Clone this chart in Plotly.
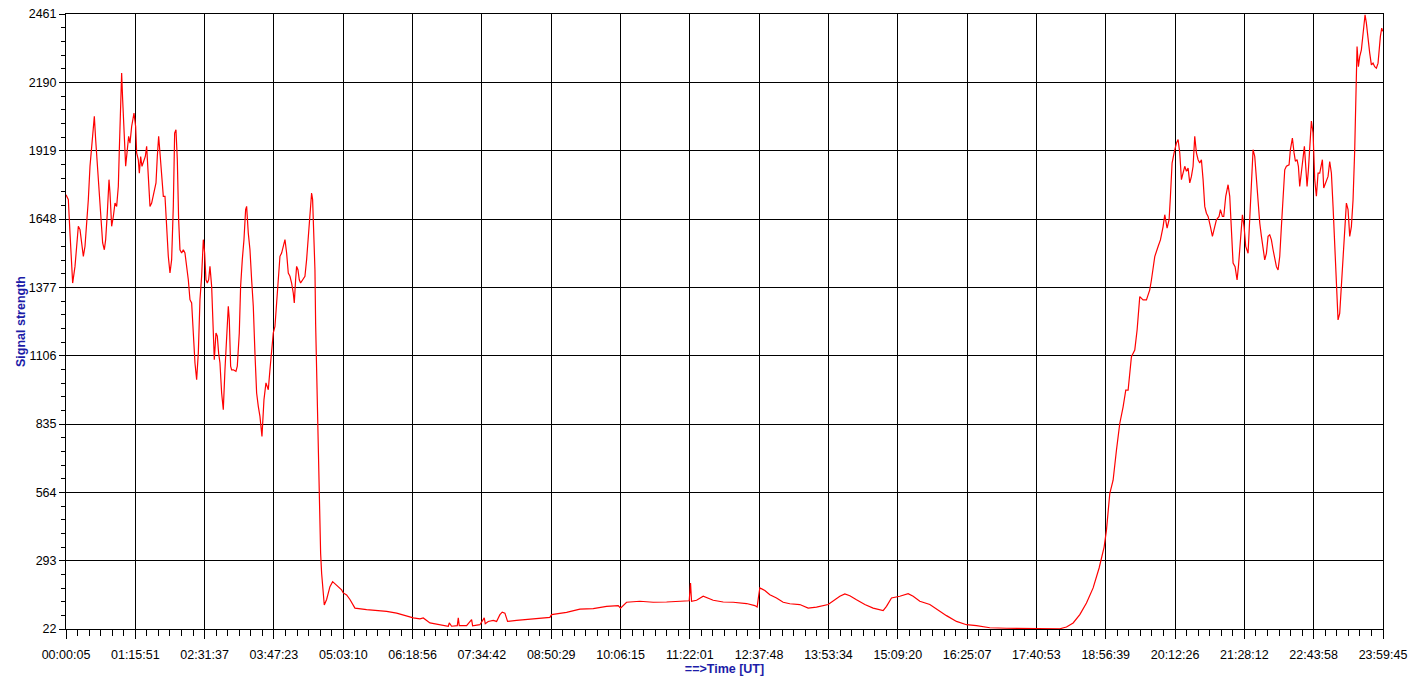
import plotly.graph_objects as go

# Time in seconds since 00:00:00 UT
time_s = [
    5, 158, 267, 377, 442, 595, 704, 814, 923, 1032, 1142, 1251, 1360, 1470, 1579, 1688, 1797, 1863, 1950,
    2060, 2191, 2300, 2409, 2519, 2606, 2715, 2825, 2890, 2999, 3109, 3218, 3327, 3437, 3502, 3590, 3655,
    3721, 3808, 3918, 4027, 4114, 4202, 4311, 4464, 4573, 4639, 4748, 4814, 4901, 4989, 5076, 5207, 5295,
    5404, 5513, 5623, 5732, 5907, 5994, 6082, 6169, 6278, 6388, 6497, 6606, 6715, 6825, 6934, 7043, 7131,
    7218, 7306, 7393, 7480, 7590, 7699, 7808, 7918, 8027, 8136, 8246, 8355, 8464, 8574, 8683, 8792, 8901,
    9011, 9098, 9185, 9273, 9360, 9448, 9557, 9666, 9732, 9841, 9929, 10016, 10103, 10213, 10322, 10431,
    10540, 10650, 10715, 10803, 10868, 10977, 11152, 11240, 11371, 11458, 11568, 11677, 11786, 11852, 11961,
    12071, 12180, 12289, 12398, 12508, 12617, 12726, 12858, 12989, 13120, 13273, 13382, 13491, 13601, 13710,
    13819, 13929, 14038, 14147, 14256, 14366, 14475, 14584, 14694, 14803, 14912, 14978, 15065, 15131, 15218,
    15306, 15393, 15524, 15677, 15786, 15896, 16005, 16114, 16180, 16246, 16333,
    16377, 16443, 16508, 16574, 16618, 16705, 16771, 16836, 16945, 17098, 17317, 17492, 17754, 18082, 18190,
    18410, 18628, 18956, 19723, 20379, 21035, 21690, 22346, 22783, 23220, 23439, 23876, 24531, 25078, 25144,
    25297, 25668, 25734, 25799, 26280, 26608, 26673, 27153, 27437, 27503, 27700, 28027, 28246, 28464, 28617,
    28792, 28967, 29557, 30650, 31744, 31853, 32837, 33711, 34586, 35460, 36224, 36377, 36771, 37645, 38520,
    39394, 40268, 40880, 40967, 41033, 41361, 41798, 42454, 43110, 43765, 44640,
    45184, 45337, 45431, 45513, 45841, 46169, 46606, 47043, 47480, 48136, 48683, 49229, 49994, 50322, 50760,
    51087, 51415, 51852, 52399, 52945, 53601, 53820, 54148, 54694, 55241, 55569, 56006, 56662, 57208, 57755,
    58411, 59066, 59722, 60597, 61690, 63439, 65187, 65624, 66062, 66499, 66936, 67373, 67766,
    68093, 68246, 68464, 68683, 68902, 69120, 69339, 69514, 69667, 69885, 70104, 70257, 70432, 70650, 70869,
    71087, 71197, 71415, 71634, 71787, 71962, 72071, 72224, 72355, 72443, 72552, 72683, 72836, 72945, 73055,
    73164, 73273, 73382, 73492, 73601, 73710, 73820, 73929, 74038, 74148, 74257, 74366, 74475, 74585, 74694,
    74803, 74913, 75066, 75197, 75350, 75459, 75634, 75721, 75852, 75940, 76071, 76224, 76333, 76443, 76552,
    76683, 76814, 76902, 76989, 77164, 77273, 77382, 77536, 77645, 77754, 77863, 77973, 78082, 78191, 78301,
    78410, 78519, 78628, 78738, 78847, 78956, 79066, 79175, 79284, 79393, 79503, 79612, 79721, 79831, 79940,
    80049, 80224, 80311, 80442, 80552, 80639, 80748, 80836, 80923, 81033, 81142, 81229, 81317, 81404, 81492,
    81579, 81688, 81798, 81907, 82016, 82126, 82235, 82344, 82410, 82497, 82628, 82781, 82890, 83000, 83109,
    83218, 83328, 83437, 83546, 83656, 83765, 83874, 83984, 84093, 84202, 84311, 84421, 84530,
    84596, 84639, 84683, 84771, 84858, 84967, 85033, 85120, 85208, 85295, 85404, 85514, 85623, 85732, 85842,
    85951, 86060, 86126, 86213, 86301, 86366,
]

signal = [
    1744, 1725, 1592, 1487, 1394, 1460, 1540, 1619, 1606, 1540, 1500, 1540, 1619, 1725, 1857, 1936, 2015, 2055, 1963,
    1857, 1725, 1619, 1553, 1526, 1566, 1672, 1804, 1751, 1619, 1658, 1711, 1698, 1778, 1923, 2121, 2227,
    2121, 1989, 1857, 1923, 1976, 1949, 2015, 2068, 2015, 1910, 1883, 1830, 1896, 1857, 1870, 1896, 1936,
    1817, 1698, 1711, 1738, 1791, 1896, 1976, 1910, 1817, 1738, 1738, 1592, 1500, 1434, 1487, 1698, 1989,
    2002, 1883, 1645, 1526, 1513, 1526, 1513, 1460, 1407, 1328, 1315, 1196, 1077, 1011, 1116, 1328, 1421,
    1566, 1513, 1407, 1394, 1407, 1460, 1381, 1196, 1090, 1196, 1183, 1116, 1077, 958, 892, 1050,
    1196, 1302, 1249, 1064, 1050, 1050, 1044, 1064, 1196, 1381, 1487, 1566, 1685, 1698, 1592,
    1526, 1407, 1302, 1116, 958, 905, 865, 786, 931, 998, 971, 1050, 1143, 1196, 1222,
    1328, 1421, 1500, 1513, 1540, 1566, 1513, 1434, 1421, 1394, 1354, 1315, 1407, 1460, 1447,
    1407, 1394, 1407, 1421, 1487, 1566, 1645, 1751, 1725, 1619, 1446,
    1234, 1049, 851, 653, 520, 322, 243, 177, 117, 139, 190, 210, 196, 177, 165,
    157, 139, 105, 99, 96, 92, 85, 72, 66, 62, 66, 46, 39, 33, 46,
    33, 35, 66, 35, 35, 59, 35, 39, 66, 43, 52, 56, 52, 79, 89,
    85, 52, 56, 62, 68, 79, 88, 101, 103, 112, 115, 105, 128, 132, 128,
    129, 132, 134, 204, 132, 136, 152, 136, 129, 128, 123,
    115, 109, 152, 185, 175, 158, 145, 128, 122, 119, 105, 109, 119, 132, 152,
    161, 154, 138, 119, 105, 95, 112, 145, 152, 162, 152, 132, 119, 96, 75,
    52, 39, 35, 27, 25, 23, 23, 30, 46, 79, 125, 185, 264,
    347, 413, 559, 612, 731, 837, 903, 969, 969, 1102, 1128, 1208, 1340, 1327, 1327,
    1367, 1406, 1499, 1539, 1565, 1618, 1665, 1612, 1645, 1738, 1870, 1910, 1949, 1963, 1910,
    1804, 1830, 1857, 1837, 1850, 1791, 1817, 1857, 1976, 1910, 1883, 1870, 1883, 1804, 1698,
    1671, 1658, 1618, 1579, 1618, 1645, 1658, 1685, 1658, 1658, 1738, 1784, 1738, 1592, 1473,
    1459, 1406, 1459, 1539, 1665, 1618, 1539, 1512, 1632, 1804, 1923, 1896, 1804, 1685, 1632,
    1579, 1539, 1486, 1512, 1579, 1585, 1565, 1526, 1486, 1459, 1446, 1499, 1618, 1738, 1843,
    1857, 1863, 1923, 1969, 1910, 1877, 1883, 1857, 1777, 1830, 1883, 1936, 1857, 1777, 1843,
    1936, 2036, 1989, 1804, 1738, 1830, 1830, 1870, 1883, 1771, 1791, 1817, 1876, 1830, 1698,
    1526, 1353, 1248, 1274, 1380, 1473, 1565, 1711, 1685, 1579, 1618, 1724, 1923,
    2060, 2186, 2332, 2252, 2292, 2319, 2359, 2398, 2458, 2425, 2359, 2306, 2259, 2266, 2252,
    2246, 2266, 2319, 2372, 2405, 2392,
]

x_tick_labels = [
    "00:00:05", "01:15:51", "02:31:37", "03:47:23", "05:03:10", "06:18:56", "07:34:42",
    "08:50:29", "10:06:15", "11:22:01", "12:37:48", "13:53:34", "15:09:20", "16:25:07",
    "17:40:53", "18:56:39", "20:12:26", "21:28:12", "22:43:58", "23:59:45",
]
y_tick_values = [22, 293, 564, 835, 1106, 1377, 1648, 1919, 2190, 2461]


def to_seconds(label):
    h, m, s = (int(p) for p in label.split(":"))
    return h * 3600 + m * 60 + s


x_tick_values = [to_seconds(lbl) for lbl in x_tick_labels]
x_start, x_end = x_tick_values[0], x_tick_values[-1]
x_minor_step = (x_end - x_start) / (len(x_tick_values) - 1) / 6
y_minor_step = (y_tick_values[1] - y_tick_values[0]) / 5

title_color = "#1C1CA8"
font_family = "Liberation Sans, Arial, sans-serif"

fig = go.Figure()
fig.add_trace(go.Scatter(
    x=time_s, y=signal, mode="lines",
    line=dict(color="#FF0000", width=1.2),
    showlegend=False, hoverinfo="skip",
))

fig.update_layout(
    width=1409, height=680,
    margin=dict(l=66, r=26, t=14, b=51, autoexpand=False),
    paper_bgcolor="white", plot_bgcolor="white",
    font=dict(family=font_family, size=12.5, color="black"),
    xaxis=dict(
        range=[x_start, x_end], automargin=False,
        tickmode="array", tickvals=x_tick_values, ticktext=x_tick_labels,
        showgrid=True, gridcolor="black", gridwidth=1,
        showline=True, linecolor="black", linewidth=1, mirror=True,
        ticks="outside", ticklen=9, tickcolor="black", tickwidth=1,
        ticklabelstandoff=5,
        minor=dict(tick0=x_start, dtick=x_minor_step, ticks="outside", ticklen=6,
                   tickcolor="black", showgrid=False),
        tickfont=dict(size=12.5, color="black"),
        title=dict(text="<b>==>Time [UT]</b>", font=dict(size=12.5, color=title_color), standoff=3),
        zeroline=False,
    ),
    yaxis=dict(
        range=[y_tick_values[0], y_tick_values[-1]], automargin=False,
        tickmode="array", tickvals=y_tick_values,
        showgrid=True, gridcolor="black", gridwidth=1,
        showline=True, linecolor="black", linewidth=1, mirror=True,
        ticks="outside", ticklen=6, tickcolor="black", tickwidth=1,
        minor=dict(tick0=y_tick_values[0], dtick=y_minor_step, ticks="outside", ticklen=4,
                   tickcolor="black", showgrid=False),
        tickfont=dict(size=12.5, color="black"),
        title=dict(text="<b>Signal strength</b>", font=dict(size=12.5, color=title_color), standoff=0),
        zeroline=False,
    ),
)

fig.write_html(
    "out.html",
    config={"displayModeBar": False},
    post_script="document.body.style.margin='0';document.body.style.overflow='hidden';",
)
